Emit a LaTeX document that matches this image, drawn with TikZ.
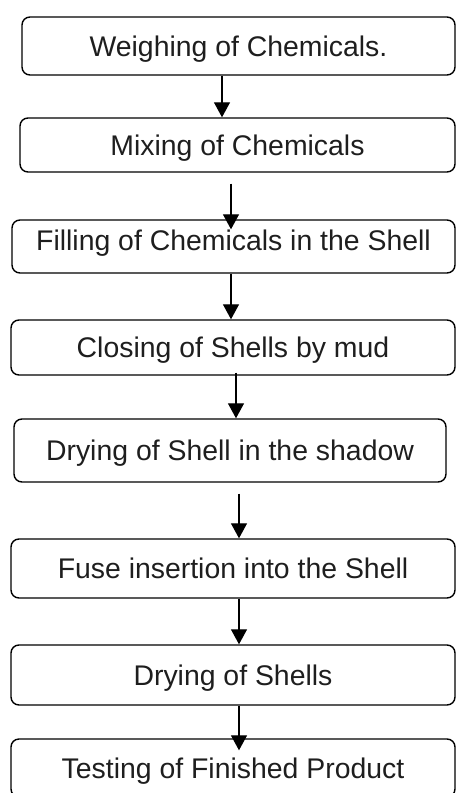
\documentclass[tikz,border=0pt]{standalone}
\usepackage{fontspec}
\setmainfont{Liberation Sans}
\usepackage{tikz}
\usetikzlibrary{arrows.meta, positioning, calc}
\definecolor{LineBlack}{RGB}{0, 0, 0}
\definecolor{StepText}{RGB}{30, 30, 30}

\begin{document}
\begin{tikzpicture}[x=1pt, y=-1pt, >={Triangle[length=15pt, width=16pt]},
    stepbox/.style={draw=LineBlack, line width=1.4pt, rounded corners=8pt, inner sep=0pt,
      text=StepText, font=\fontsize{28.4}{34}\selectfont, text height=20.4pt, text depth=0pt},
    flowarrow/.style={->, line width=1.3pt, LineBlack}]
      % Page frame
      \clip (0, 0) rectangle (456, 793);

      % Process steps
      \node[stepbox, minimum width=433pt, minimum height=58pt] (weigh) at (238.5, 46) {Weighing of Chemicals.};
      \node[stepbox, minimum width=435pt, minimum height=54pt] (mix) at (237.5, 145) {Mixing of Chemicals};
      \node[stepbox, minimum width=443pt, minimum height=53pt, text depth=13pt] (fill) at (233.5, 246.5) {Filling of Chemicals in the Shell};
      \node[stepbox, minimum width=444pt, minimum height=55pt] (close) at (233, 347.5) {Closing of Shells by mud};
      \node[stepbox, minimum width=432pt, minimum height=63pt] (shade) at (230, 450.5) {Drying of Shell in the shadow};
      \node[stepbox, minimum width=444pt, minimum height=59pt] (fuse) at (233, 568.5) {Fuse insertion into the Shell};
      \node[stepbox, minimum width=444pt, minimum height=60pt] (dry) at (233, 675) {Drying of Shells};
      \node[stepbox, minimum width=444pt, minimum height=58pt] (test) at (233, 768) {Testing of Finished Product};

      % Flow arrows
      \draw[flowarrow] (weigh.south -| 222, 0) -- (mix.north -| 222, 0);
      \draw[flowarrow] ([yshift=-11pt]mix.south -| 231, 0) -- ([yshift=-10pt]fill.north -| 231, 0);
      \draw[flowarrow] (fill.south -| 231, 0) -- (close.north -| 231, 0);
      \draw[flowarrow] ([yshift=3pt]close.south -| 236, 0) -- (shade.north -| 236, 0);
      \draw[flowarrow] ([yshift=-11pt]shade.south -| 239, 0) -- (fuse.north -| 239, 0);
      \draw[flowarrow] (fuse.south -| 239, 0) -- (dry.north -| 239, 0);
      \draw[flowarrow] (dry.south -| 239, 0) -- ([yshift=-12pt]test.north -| 239, 0);
    \end{tikzpicture}
\end{document}
